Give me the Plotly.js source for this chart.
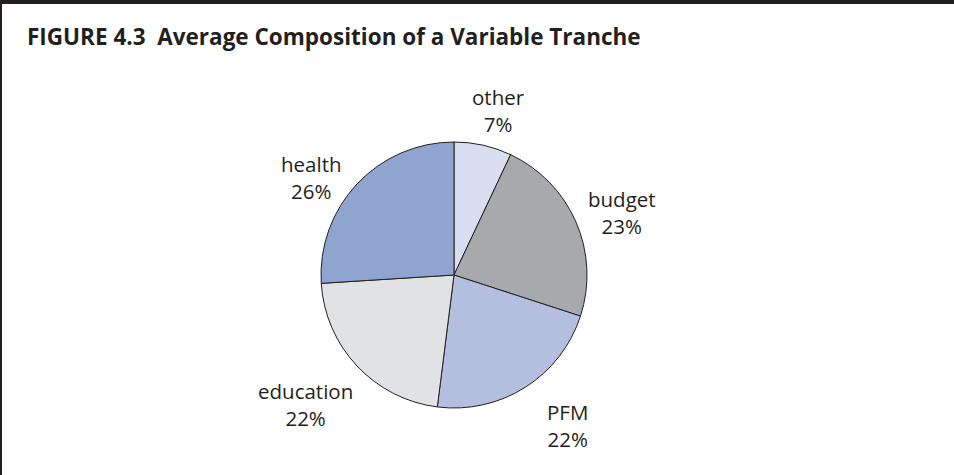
<!DOCTYPE html>
<html>
<head>
<meta charset="utf-8">
<script src="https://cdn.plot.ly/plotly-3.0.1.min.js"></script>
<style>html,body{margin:0;padding:0;background:#fff;}#chart{width:954px;height:475px;}</style>
</head>
<body>
<div id="chart"></div>
<script>
var categories = ["other", "budget", "PFM", "education", "health"];
var shares = [7, 23, 22, 22, 26];
var sliceColors = ["#d9dff0", "#a7a9ac", "#b4bfe0", "#e1e2e4", "#90a4d0"];
var chartTitle = "FIGURE 4.3\u00a0 Average Composition of a Variable Tranche";

// label block centers in pixels
var labelPosX = [498, 622, 567, 305, 311];
var labelPosY = [110, 212, 425, 404, 177];

var W = 954, H = 475;
var cx = 454, cy = 275, r = 133;
var FONT = "'Open Sans', sans-serif";
var INK = "#231f20";

var trace = {
  type: "pie",
  labels: categories,
  values: shares,
  sort: false,
  direction: "clockwise",
  rotation: 0,
  marker: {colors: sliceColors, line: {color: INK, width: 1}},
  textinfo: "none",
  hoverinfo: "none",
  showlegend: false,
  domain: {x: [(cx - r) / W, (cx + r) / W], y: [(H - cy - r) / H, (H - cy + r) / H]}
};

var total = shares.reduce(function (a, b) { return a + b; }, 0);
var annotations = categories.map(function (c, i) {
  var pct = Math.round(shares[i] / total * 100) + "%";
  return {
    text: c + "<br>" + pct, showarrow: false, xref: "paper", yref: "paper",
    x: labelPosX[i] / W, y: 1 - labelPosY[i] / H,
    xanchor: "center", yanchor: "middle", align: "center",
    font: {family: FONT, size: 20.5, color: INK}
  };
});

var layout = {
  width: W, height: H,
  margin: {l: 0, r: 0, t: 0, b: 0},
  paper_bgcolor: "#ffffff",
  title: {
    text: "<b>" + chartTitle + "</b>",
    font: {family: FONT, size: 22.5, color: INK},
    x: 27 / W, xanchor: "left", xref: "paper",
    y: 1 - 37 / H, yanchor: "middle", yref: "paper"
  },
  annotations: annotations,
  shapes: [
    {type: "line", xref: "paper", yref: "paper", x0: 0, x1: 1, y0: 1 - 2 / H, y1: 1 - 2 / H, line: {color: INK, width: 4}},
    {type: "line", xref: "paper", yref: "paper", x0: 1 / W, x1: 1 / W, y0: 0, y1: 1, line: {color: INK, width: 2}}
  ]
};

Plotly.newPlot("chart", [trace], layout, {displayModeBar: false, staticPlot: true});
</script>
</body>
</html>
